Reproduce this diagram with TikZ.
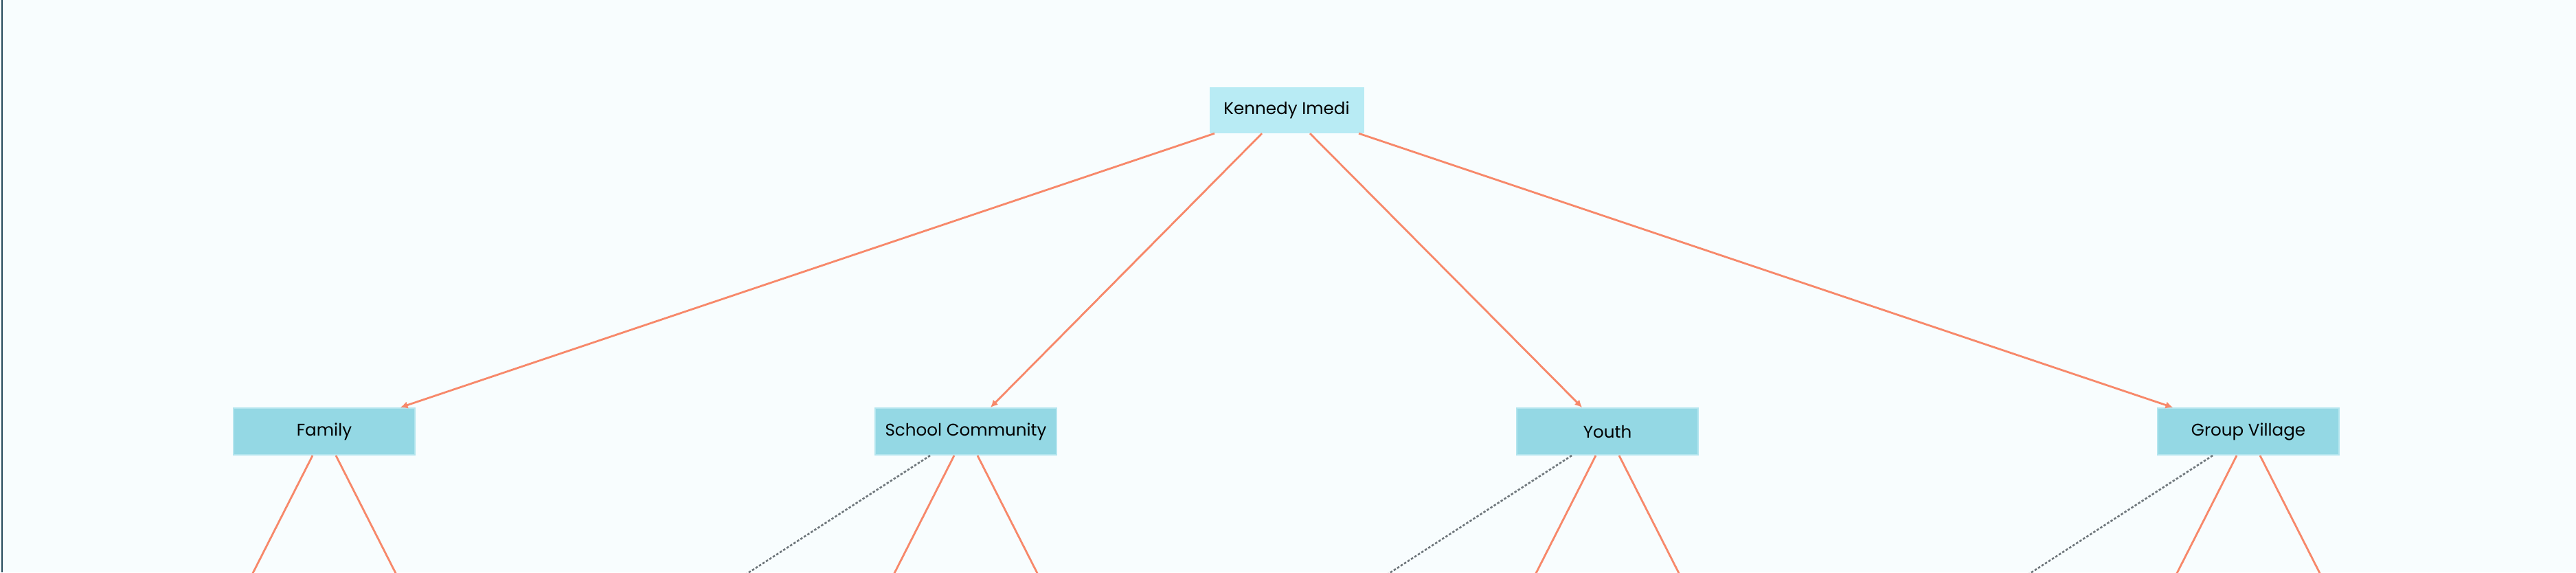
\documentclass[tikz,border=0pt]{standalone}
\usepackage{fontspec}
\setmainfont{Poppins}
\usetikzlibrary{arrows.meta}

\definecolor{paper}{HTML}{F8FDFE}
\definecolor{edge}{HTML}{24495A}
\definecolor{rootfill}{HTML}{B8EBF4}
\definecolor{boxfill}{HTML}{94D8E4}
\definecolor{boxline}{HTML}{B3E5EE}
\definecolor{link}{HTML}{F7886A}
\definecolor{hint}{HTML}{6E767B}

\tikzset{
  rootbox/.style={fill=rootfill, minimum width=2.25cm, minimum height=0.67cm, inner sep=0pt, font=\fontsize{7}{8}\selectfont},
  groupbox/.style={fill=boxfill, draw=boxline, line width=0.6pt, minimum width=2.64cm, minimum height=0.68cm, inner sep=0pt, font=\fontsize{7}{8}\selectfont},
  tie/.style={draw=link, line width=0.8pt},
  loose/.style={draw=hint, line width=0.75pt, dash pattern=on 1pt off 0.7pt}
}

\begin{document}
\begin{tikzpicture}
% 3750 x 833 px, 1 px = 0.01 cm

  \fill [paper] (0,0) rectangle (37.5,-8.33);
  \useasboundingbox (0,0) rectangle (37.5,-8.33);
  \clip (0,0) rectangle (37.5,-8.33);
  \draw [edge, line width=0.6pt] (0.03,0) -- (0.03,-8.33);

    \node [rootbox] (kennedy) at (18.73,-1.60) {Kennedy Imedi};

    \node [groupbox] (family) at (4.72,-6.28) {Family};
    \node [groupbox] (school) at (14.06,-6.28) {School Community};
    \node [groupbox] (youth) at (23.40,-6.28) {Youth};
    \node [groupbox] (village) at (32.73,-6.28) {Group Village};

% loose ends below the frame
    \coordinate (familyL) at (3.60,-8.5);
    \coordinate (familyR) at (5.84,-8.5);
    \coordinate (schoolD) at (10.64,-8.5);
    \coordinate (schoolL) at (12.94,-8.5);
    \coordinate (schoolR) at (15.18,-8.5);
    \coordinate (youthD) at (19.98,-8.5);
    \coordinate (youthL) at (22.28,-8.5);
    \coordinate (youthR) at (24.52,-8.5);
    \coordinate (villageD) at (29.31,-8.5);
    \coordinate (villageL) at (31.61,-8.5);
    \coordinate (villageR) at (33.85,-8.5);

  \draw [tie, -{Latex[length=3pt,width=3pt]}] ([xshift=-1.05cm]kennedy.south) -- ([xshift=1.11cm]family.north);
  \draw [tie, -{Latex[length=3pt,width=3pt]}] ([xshift=-0.36cm]kennedy.south) -- ([xshift=0.36cm]school.north);
  \draw [tie, -{Latex[length=3pt,width=3pt]}] ([xshift=0.34cm]kennedy.south) -- ([xshift=-0.37cm]youth.north);
  \draw [tie, -{Latex[length=3pt,width=3pt]}] ([xshift=1.05cm]kennedy.south) -- ([xshift=-1.10cm]village.north);

  \draw [tie] ([xshift=-0.17cm]family.south) -- (familyL);
  \draw [tie] ([xshift=0.17cm]family.south) -- (familyR);

  \draw [loose] ([xshift=-0.52cm]school.south) -- (schoolD);
  \draw [tie] ([xshift=-0.17cm]school.south) -- (schoolL);
  \draw [tie] ([xshift=0.17cm]school.south) -- (schoolR);

  \draw [loose] ([xshift=-0.52cm]youth.south) -- (youthD);
  \draw [tie] ([xshift=-0.17cm]youth.south) -- (youthL);
  \draw [tie] ([xshift=0.17cm]youth.south) -- (youthR);

  \draw [loose] ([xshift=-0.52cm]village.south) -- (villageD);
  \draw [tie] ([xshift=-0.17cm]village.south) -- (villageL);
  \draw [tie] ([xshift=0.17cm]village.south) -- (villageR);

\end{tikzpicture}
\end{document}
